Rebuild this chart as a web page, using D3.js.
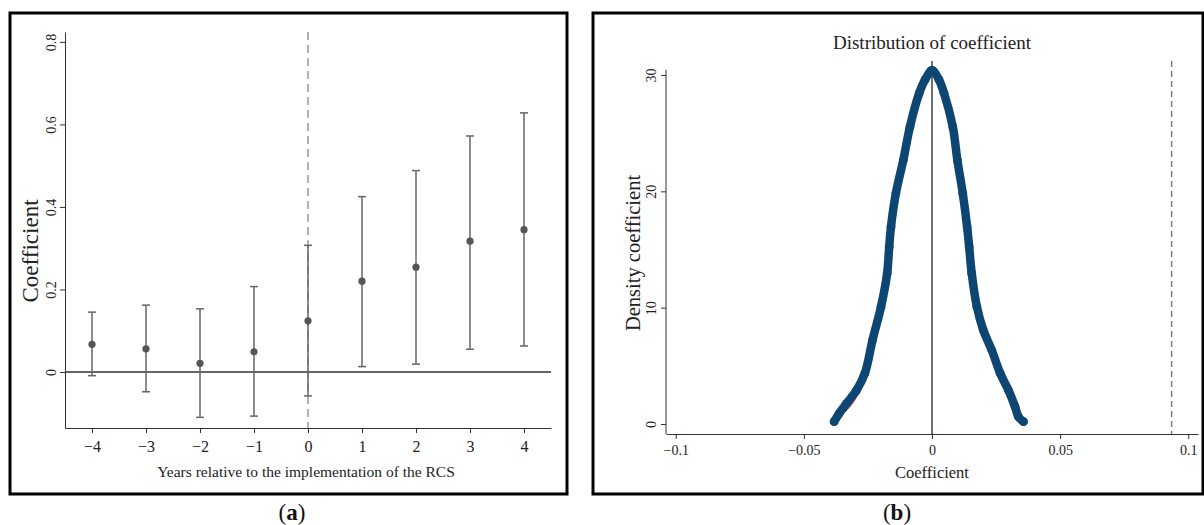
<!DOCTYPE html>
<html>
<head>
<meta charset="utf-8">
<script src="https://cdn.jsdelivr.net/npm/d3@7"></script>
<style>
  body { margin: 0; background: #fff; }
  svg { display: block; font-family: "Liberation Serif", "DejaVu Serif", serif; }
</style>
</head>
<body>
<svg id="chart" width="1204" height="525"></svg>
<script>
// panel (a): event-study coefficients
const years = [-4, -3, -2, -1, 0, 1, 2, 3, 4];
const coef = [0.067, 0.056, 0.021, 0.049, 0.124, 0.220, 0.254, 0.317, 0.345];
const ciLow = [-0.009, -0.048, -0.110, -0.107, -0.058, 0.013, 0.019, 0.055, 0.063];
const ciHigh = [0.145, 0.162, 0.153, 0.207, 0.307, 0.425, 0.488, 0.572, 0.628];
const yTicksA = [0, 0.2, 0.4, 0.6, 0.8];

// panel (b): placebo coefficient density
const densX = [-0.0382, -0.0362, -0.0333, -0.0294, -0.0262, -0.0232, -0.0199, -0.0175, -0.0167, -0.0160,
  -0.0141, -0.0112, -0.0086, -0.0050, -0.0027, 0, 0.0027, 0.0047, 0.0081, 0.0099, 0.0120, 0.0137,
  0.0145, 0.0155, 0.0175, 0.0200, 0.0233, 0.0266, 0.0298, 0.0324, 0.0337, 0.0357];
const densY = [0.20, 0.92, 1.78, 2.92, 4.36, 7.22, 10.08, 12.95, 15.24, 16.96,
  19.83, 22.69, 25.56, 28.43, 29.6, 30.4, 29.6, 28.43, 25.56, 22.69, 19.83, 16.96,
  15.24, 12.95, 10.08, 8.08, 6.36, 4.36, 2.92, 1.49, 0.63, 0.20];
const kdeX = [-0.0375, -0.0340, -0.0309, -0.0283, -0.0260, -0.0230, -0.0199, -0.0172, -0.0150,
  -0.0112, -0.0086, -0.0050, 0, 0.0047, 0.0081, 0.0100, 0.0122, 0.0140, 0.0162, 0.0185, 0.0210,
  0.0238, 0.0262, 0.0290, 0.0318, 0.0340];
const kdeY = [0.34, 1.03, 1.8, 2.9, 4.4, 7.2, 10.08, 13.5, 17.5,
  22.69, 25.56, 28.43, 30.3, 28.43, 25.56, 22.69, 19.83, 16.96, 12.95, 10.08, 7.8,
  5.6, 4.36, 2.9, 1.6, 0.7];
const trueCoef = 0.0935;
const xTicksB = [-0.1, -0.05, 0, 0.05, 0.1];
const yTicksB = [0, 10, 20, 30];

const svg = d3.select("#chart");
const serif = '"Liberation Serif", "DejaVu Serif", serif';
const fmtMinus = s => String(s).replace("-", "\u2212");

// frames
svg.append("rect").attr("x", 10).attr("y", 13).attr("width", 557).attr("height", 481)
  .attr("fill", "none").attr("stroke", "#000").attr("stroke-width", 3);
svg.append("rect").attr("x", 593).attr("y", 13).attr("width", 610).attr("height", 481)
  .attr("fill", "none").attr("stroke", "#000").attr("stroke-width", 3);

// ---------- panel (a) ----------
const xA = d3.scaleLinear().domain([-4.5, 4.5]).range([65, 551]);
const yA = d3.scaleLinear().domain([-0.1358, 0.824]).range([428, 32]);
const gA = svg.append("g");

gA.append("g")
  .attr("transform", "translate(0,428)")
  .call(d3.axisBottom(xA).tickValues(years).tickSize(5).tickSizeOuter(0).tickFormat(fmtMinus))
  .attr("font-family", serif)
  .call(g => g.selectAll("text").attr("font-size", 16).attr("dy", "1.0em").attr("fill", "#222"));
gA.append("g")
  .attr("transform", "translate(65,0)")
  .call(d3.axisLeft(yA).tickValues(yTicksA).tickSize(5).tickSizeOuter(0).tickFormat(d3.format("")))
  .attr("font-family", serif)
  .call(g => g.selectAll(".tick text")
    .attr("transform", "rotate(-90)").attr("x", 0).attr("y", -9).attr("dy", 0)
    .attr("text-anchor", "middle").attr("font-size", 14).attr("fill", "#222"));
gA.selectAll(".domain, .tick line").attr("stroke", "#333");

gA.append("line").attr("x1", xA(-4.5)).attr("x2", xA(4.5)).attr("y1", yA(0)).attr("y2", yA(0))
  .attr("stroke", "#333").attr("stroke-width", 1.4);
gA.append("line").attr("x1", xA(0)).attr("x2", xA(0)).attr("y1", yA(0.824)).attr("y2", yA(-0.1358))
  .attr("stroke", "#888").attr("stroke-width", 1.3).attr("stroke-dasharray", "8,5");

const bars = gA.selectAll(".ci").data(years).enter().append("g");
bars.append("line").attr("x1", d => xA(d)).attr("x2", d => xA(d))
  .attr("y1", (d, i) => yA(ciLow[i])).attr("y2", (d, i) => yA(ciHigh[i]))
  .attr("stroke", "#666").attr("stroke-width", 1.5);
bars.append("line").attr("x1", d => xA(d) - 4).attr("x2", d => xA(d) + 4)
  .attr("y1", (d, i) => yA(ciLow[i])).attr("y2", (d, i) => yA(ciLow[i]))
  .attr("stroke", "#666").attr("stroke-width", 1.5);
bars.append("line").attr("x1", d => xA(d) - 4).attr("x2", d => xA(d) + 4)
  .attr("y1", (d, i) => yA(ciHigh[i])).attr("y2", (d, i) => yA(ciHigh[i]))
  .attr("stroke", "#666").attr("stroke-width", 1.5);
bars.append("circle").attr("cx", d => xA(d)).attr("cy", (d, i) => yA(coef[i])).attr("r", 3.6)
  .attr("fill", "#555");

gA.append("text").attr("x", 306).attr("y", 477).attr("text-anchor", "middle")
  .attr("font-size", 15.5).attr("fill", "#222").text("Years relative to the implementation of the RCS");
gA.append("text").attr("transform", "translate(38,251) rotate(-90)").attr("text-anchor", "middle")
  .attr("font-size", 23).attr("fill", "#222").text("Coefficient");

// ---------- panel (b) ----------
const xB = d3.scaleLinear().domain([-0.1038, 0.1038]).range([666, 1198]);
const yB = d3.scaleLinear().domain([0, 30]).range([424, 75]);
const gB = svg.append("g");

gB.append("g")
  .attr("transform", "translate(0,434)")
  .call(d3.axisBottom(xB).tickValues(xTicksB).tickSize(5).tickSizeOuter(0).tickFormat(fmtMinus))
  .attr("font-family", serif)
  .call(g => g.selectAll("text").attr("font-size", 14).attr("dy", "0.95em").attr("fill", "#222"));
gB.append("g")
  .attr("class", "yaxis")
  .attr("transform", "translate(666,0)")
  .call(d3.axisLeft(yB).tickValues(yTicksB).tickSize(5).tickSizeOuter(0).tickFormat(d3.format("")))
  .attr("font-family", serif)
  .call(g => g.selectAll(".tick text")
    .attr("transform", "rotate(-90)").attr("x", 0).attr("y", -10).attr("dy", 0)
    .attr("text-anchor", "middle").attr("font-size", 14).attr("fill", "#222"));
gB.selectAll(".domain, .tick line").attr("stroke", "#333");
// stretch the y axis line down to the x axis
gB.select(".yaxis .domain").attr("d", "M0," + yB(30.45) + "V434");

gB.append("line").attr("x1", xB(0)).attr("x2", xB(0)).attr("y1", 61).attr("y2", 434)
  .attr("stroke", "#222").attr("stroke-width", 1.3);
gB.append("line").attr("x1", xB(trueCoef)).attr("x2", xB(trueCoef)).attr("y1", 61).attr("y2", 434)
  .attr("stroke", "#777").attr("stroke-width", 1.4).attr("stroke-dasharray", "6,4");

const dens = densX.map((x, i) => [x, densY[i]]);
const kde = kdeX.map((x, i) => [x, kdeY[i]]);
const lineC = d3.line().x(d => xB(d[0])).y(d => yB(d[1])).curve(d3.curveCatmullRom);

gB.append("path").attr("d", lineC(kde)).attr("fill", "none").attr("stroke", "#c8102e").attr("stroke-width", 1);
gB.append("path").attr("d", lineC(dens)).attr("fill", "none").attr("stroke", "#0d4672")
  .attr("stroke-width", 8.5).attr("stroke-linejoin", "round").attr("stroke-linecap", "round");
gB.selectAll(".dot").data(dens).enter().append("circle")
  .attr("cx", d => xB(d[0])).attr("cy", d => yB(d[1])).attr("r", 4.4).attr("fill", "#0d4672");

gB.append("text").attr("x", xB(0)).attr("y", 49).attr("text-anchor", "middle")
  .attr("font-size", 19).attr("fill", "#222").text("Distribution of coefficient");
gB.append("text").attr("x", xB(0)).attr("y", 478).attr("text-anchor", "middle")
  .attr("font-size", 16.5).attr("fill", "#222").text("Coefficient");
gB.append("text").attr("transform", "translate(640,253) rotate(-90)").attr("text-anchor", "middle")
  .attr("font-size", 20.5).attr("fill", "#222").text("Density coefficient");

// panel labels
const lab = [["a", 292], ["b", 897]];
lab.forEach(([t, x]) => {
  const txt = svg.append("text").attr("x", x).attr("y", 520).attr("text-anchor", "middle")
    .attr("font-size", 23).attr("fill", "#111");
  txt.append("tspan").text("(");
  txt.append("tspan").attr("font-weight", "bold").text(t);
  txt.append("tspan").text(")");
});
</script>
</body>
</html>
